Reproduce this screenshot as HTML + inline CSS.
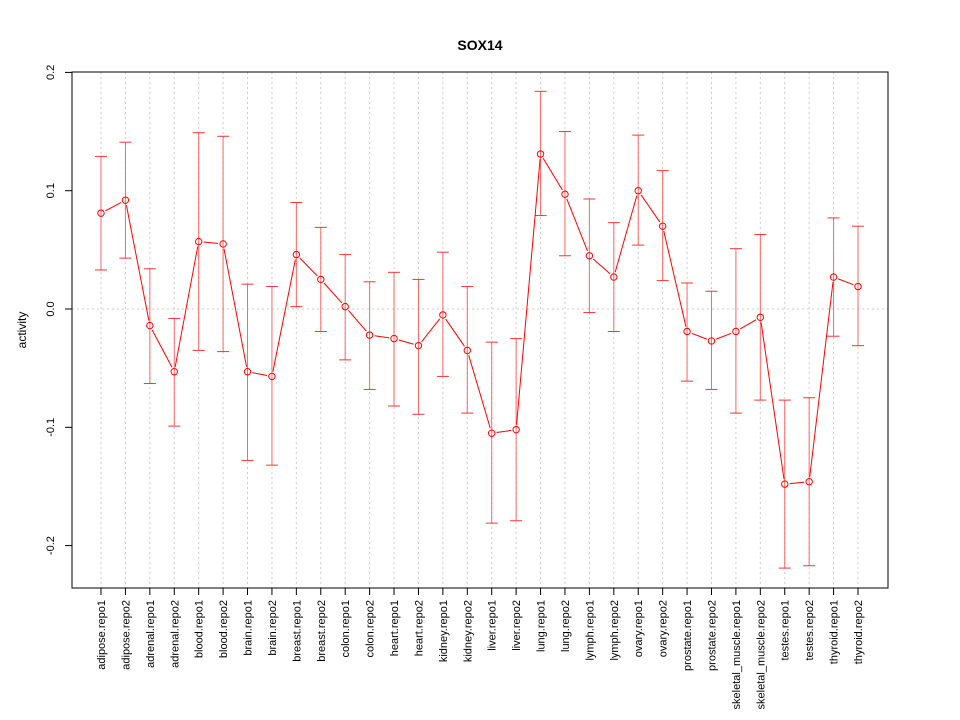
<!DOCTYPE html>
<html><head><meta charset="utf-8"><style>body{margin:0;background:#fff}svg{display:block;font-family:"Liberation Sans",sans-serif}</style></head>
<body>
<svg id="chart" width="960" height="720">
<rect width="960" height="720" fill="#fff"/>
<text x="480" y="50" text-anchor="middle" font-weight="bold" font-size="14">SOX14</text>
<text transform="translate(26,330) rotate(-90)" text-anchor="middle" font-size="12">activity</text>
<g id="grid"></g><g id="yaxis"></g><g id="xaxis"></g><g id="series"></g>
<rect x="72" y="72" width="816" height="516" fill="none" stroke="#000"/>
</svg>
<script>
const categories=["adipose.repo1","adipose.repo2","adrenal.repo1","adrenal.repo2","blood.repo1","blood.repo2","brain.repo1","brain.repo2","breast.repo1","breast.repo2","colon.repo1","colon.repo2","heart.repo1","heart.repo2","kidney.repo1","kidney.repo2","liver.repo1","liver.repo2","lung.repo1","lung.repo2","lymph.repo1","lymph.repo2","ovary.repo1","ovary.repo2","prostate.repo1","prostate.repo2","skeletal_muscle.repo1","skeletal_muscle.repo2","testes.repo1","testes.repo2","thyroid.repo1","thyroid.repo2"];
const values=[0.081,0.092,-0.014,-0.053,0.057,0.055,-0.053,-0.057,0.046,0.025,0.002,-0.022,-0.025,-0.031,-0.005,-0.035,-0.105,-0.102,0.131,0.097,0.045,0.027,0.100,0.070,-0.019,-0.027,-0.019,-0.007,-0.148,-0.146,0.027,0.019];
const upper=[0.129,0.141,0.034,-0.008,0.149,0.146,0.021,0.019,0.090,0.069,0.046,0.023,0.031,0.025,0.048,0.019,-0.028,-0.025,0.184,0.150,0.093,0.073,0.147,0.117,0.022,0.015,0.051,0.063,-0.077,-0.075,0.077,0.070];
const lower=[0.033,0.043,-0.063,-0.099,-0.035,-0.036,-0.128,-0.132,0.002,-0.019,-0.043,-0.068,-0.082,-0.089,-0.057,-0.088,-0.181,-0.179,0.079,0.045,-0.003,-0.019,0.054,0.024,-0.061,-0.068,-0.088,-0.077,-0.219,-0.217,-0.023,-0.031];
const yTicks=[-0.2,-0.1,0.0,0.1,0.2];
const yLabels=["-0.2","-0.1","0.0","0.1","0.2"];
const NS="http://www.w3.org/2000/svg";
const y=v=>309-v*1183;
const x=i=>101+i*(858-101)/(categories.length-1);
function mk(tag,attrs,parent,txt){const e=document.createElementNS(NS,tag);for(const k in attrs)e.setAttribute(k,attrs[k]);if(txt!=null)e.textContent=txt;document.getElementById(parent).appendChild(e);return e;}
let zg=mk('line',{x1:72,x2:888,y1:y(0),y2:y(0),stroke:'#ccc','stroke-dasharray':'2,3'},'grid');


yTicks.forEach((t,i)=>{
 let tk=mk('line',{x1:65,x2:72,y1:y(t),y2:y(t),stroke:'#000'},'yaxis');
 
 
 let l=mk('text',{transform:`translate(54,${y(t)}) rotate(-90)`,'text-anchor':'middle','font-size':11},'yaxis',yLabels[i]);
 
 
});
categories.forEach((c,i)=>{
 let g=mk('line',{x1:x(i),x2:x(i),y1:72,y2:588,stroke:'#ccc','stroke-dasharray':'2,3'},'grid');
 
 
 let tk=mk('line',{x1:x(i),x2:x(i),y1:588,y2:595,stroke:'#000'},'xaxis');
 
 
 let l=mk('text',{transform:`translate(${x(i)+4},600) rotate(-90)`,'text-anchor':'end','font-size':11},'xaxis',c);
 
 
 let eb=mk('line',{x1:x(i),x2:x(i),y1:y(upper[i]),y2:y(lower[i]),stroke:'#f66'},'series');
 
 
 [upper[i],lower[i]].forEach(v=>{
  let cap=mk('line',{x1:x(i)-6,x2:x(i)+6,y1:y(v),y2:y(v),stroke:'#f33'},'series');
  
  
 });
});
for(let i=0;i<values.length-1;i++){
 const x1=x(i),y1=y(values[i]),x2=x(i+1),y2=y(values[i+1]);
 const d=Math.hypot(x2-x1,y2-y1),g=5;
 if(d<=2*g)continue;
 const ux=(x2-x1)/d,uy=(y2-y1)/d;
 let s=mk('line',{x1:x1+ux*g,y1:y1+uy*g,x2:x2-ux*g,y2:y2-uy*g,stroke:'#f00'},'series');
 
 
}
values.forEach((v,i)=>{
 let p=mk('circle',{cx:x(i),cy:y(v),r:3.2,fill:'none',stroke:'#f00'},'series');
 
 
});
</script>
</body></html>
